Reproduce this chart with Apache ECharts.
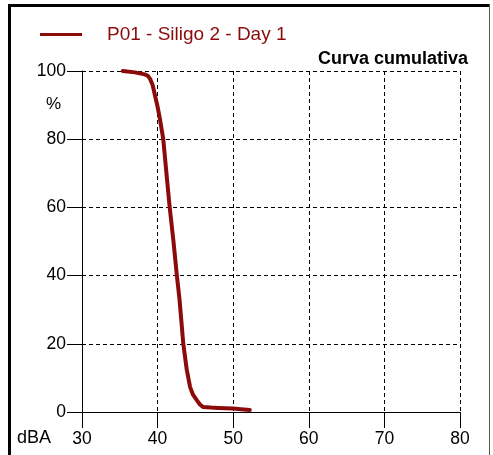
<!DOCTYPE html>
<html>
<head>
<meta charset="utf-8">
<script src="https://cdn.jsdelivr.net/npm/echarts@6/dist/echarts.min.js"></script>
<style>
	html, body { margin: 0; padding: 0; background: #fff; }
	#chart { width: 493px; height: 455px; }
</style>
</head>
<body>
<div id="chart"></div>
<script>
	// cumulative curve
	var levelDb  = [35.4, 37, 38.3, 38.7, 39.0, 39.35, 39.65, 40.0, 40.3, 40.75, 41.28, 41.6, 42.1, 42.55, 42.9, 43.4, 43.85, 44.3, 44.7, 45.2, 45.6, 46.0, 47, 48, 50, 51, 52.2];
	var percent  = [100, 99.6, 99, 98.6, 97.7, 95.8, 92.9, 89.5, 86, 80, 67.4, 60, 50, 40, 33, 20, 12.5, 7.3, 5, 3.4, 2.2, 1.5, 1.3, 1.2, 1.0, 0.8, 0.6];
	var seriesName = 'P01 - Siligo 2 - Day 1';
	var xTicks = [30, 40, 50, 60, 70, 80];
	var yTicks = [0, 20, 40, 60, 80, 100];

	var red = '#8b0a0a';
	var font = 'Liberation Sans';

	var pts = [];
	for (var i = 0; i < levelDb.length; i++) {
		pts.push([levelDb[i], percent[i]]);
	}

	var myChart = echarts.init(document.getElementById('chart'));
	var option = {
	  animation: false,
	  title: {
	    text: 'Curva cumulativa',
	    right: 20,
	    top: 45,
	    textStyle: { fontFamily: font, fontSize: 18, fontWeight: 'bold', color: '#000' }
	  },
	  legend: {
	    left: 35,
	    top: 20,
	    icon: 'rect',
	    itemWidth: 42,
	    itemHeight: 3,
	    textStyle: { fontFamily: font, fontSize: 19, color: red, padding: [0, 0, 0, 20] },
	    data: [seriesName]
	  },
	  grid: { left: 82, right: 33, top: 71, bottom: 43 },
	  xAxis: {
	    type: 'value',
	    min: xTicks[0],
	    max: xTicks[xTicks.length - 1],
	    interval: 10,
	    axisLine: { show: true, lineStyle: { color: '#000', width: 1 } },
	    axisTick: { show: true, length: 16, lineStyle: { color: '#000' } },
	    axisLabel: { margin: 18, fontFamily: font, fontSize: 17.5, color: '#000' },
	    splitLine: { show: true, lineStyle: { color: '#000', type: [4, 3], width: 1 } }
	  },
	  yAxis: {
	    type: 'value',
	    min: yTicks[0],
	    max: yTicks[yTicks.length - 1],
	    interval: 20,
	    axisLine: { show: true, lineStyle: { color: '#000', width: 1 } },
	    axisTick: { show: true, length: 15, lineStyle: { color: '#000' } },
	    axisLabel: { margin: 16, fontFamily: font, fontSize: 17.5, color: '#000' },
	    splitLine: { show: true, lineStyle: { color: '#000', type: [4, 3], width: 1 } }
	  },
	  graphic: [
	    { type: 'line', shape: { x1: 9.5, y1: 4, x2: 9.5, y2: 455 }, style: { stroke: '#000', lineWidth: 3 } },
	    { type: 'line', shape: { x1: 8, y1: 5.5, x2: 489, y2: 5.5 }, style: { stroke: '#000', lineWidth: 3 } },
	    { type: 'line', shape: { x1: 489.5, y1: 4, x2: 489.5, y2: 455 }, style: { stroke: '#555', lineWidth: 1 } },
	    { type: 'text', left: 46, top: 96, style: { text: '%', font: '17px "Liberation Sans"', fill: '#000' } },
	    { type: 'text', left: 17, top: 429, style: { text: 'dBA', font: '18px "Liberation Sans"', fill: '#000' } }
	  ],
	  series: [
	    {
	      name: seriesName,
	      type: 'line',
	      data: pts,
	      smooth: false,
	      symbol: 'none',
	      lineStyle: { color: red, width: 4, join: 'round', cap: 'round' },
	      itemStyle: { color: red }
	    }
	  ]
	};
	option && myChart.setOption(option);
</script>
</body>
</html>
